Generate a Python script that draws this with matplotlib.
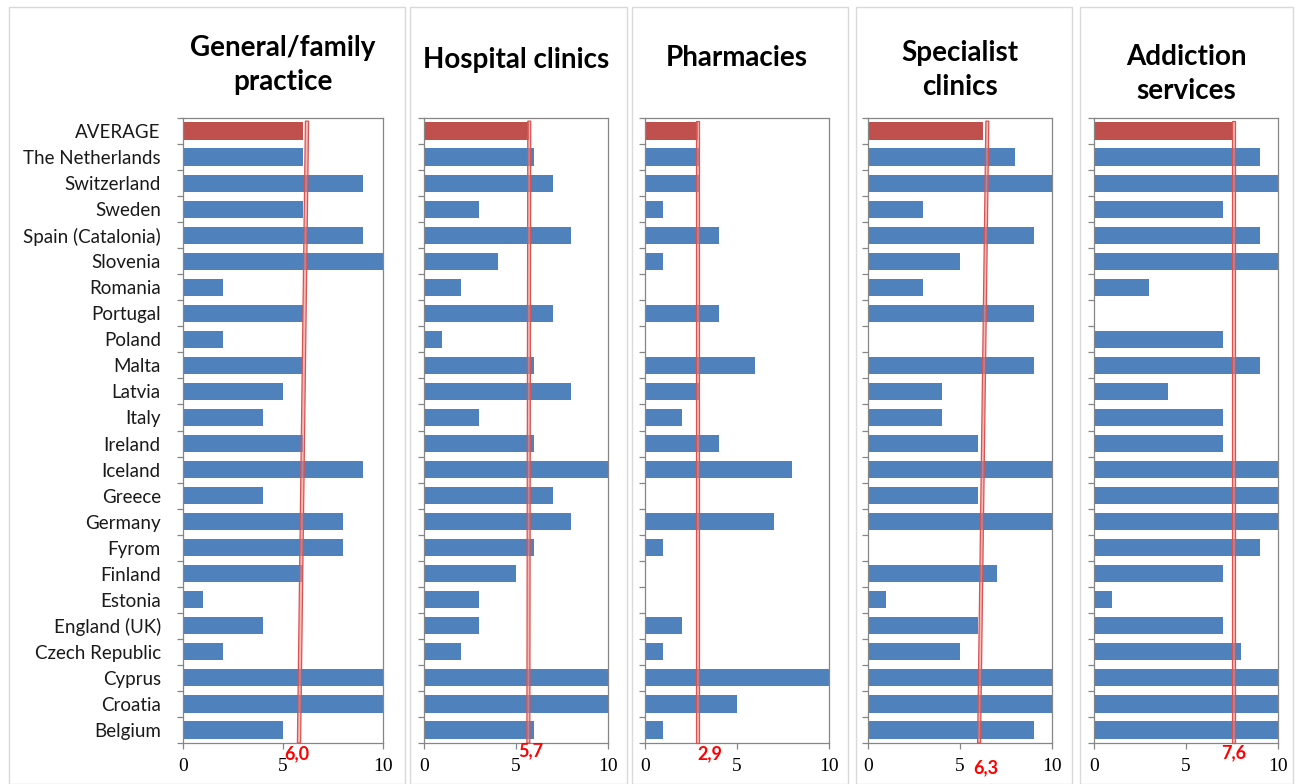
import matplotlib.pyplot as plt
from matplotlib.patches import Polygon, Rectangle

# rows, top to bottom (AVERAGE is filled in from the country scores)
countries = ["The Netherlands", "Switzerland", "Sweden", "Spain (Catalonia)", "Slovenia",
             "Romania", "Portugal", "Poland", "Malta", "Latvia", "Italy", "Ireland",
             "Iceland", "Greece", "Germany", "Fyrom", "Finland", "Estonia", "England (UK)",
             "Czech Republic", "Cyprus", "Croatia", "Belgium"]

titles = ["General/family\npractice", "Hospital clinics", "Pharmacies",
          "Specialist\nclinics", "Addiction\nservices"]

general_practice = [6, 9, 6, 9, 10, 2, 6, 2, 6, 5, 4, 6, 9, 4, 8, 8, 6, 1, 4, 2, 10, 10, 5]
hospital_clinics = [6, 7, 3, 8, 4, 2, 7, 1, 6, 8, 3, 6, 10, 7, 8, 6, 5, 3, 3, 2, 10, 10, 6]
pharmacies = [3, 3, 1, 4, 1, 0, 4, 0, 6, 3, 2, 4, 8, 0, 7, 1, 0, 0, 2, 1, 10, 5, 1]
specialist_clinics = [8, 10, 3, 9, 5, 3, 9, 0, 9, 4, 4, 6, 10, 6, 10, 0, 7, 1, 6, 5, 10, 10, 9]
addiction_services = [9, 10, 7, 9, 10, 3, 0, 7, 9, 4, 7, 7, 10, 10, 10, 9, 7, 1, 7, 8, 10, 10, 10]

series = [general_practice, hospital_clinics, pharmacies, specialist_clinics, addiction_services]

BLUE = "#4F81BD"
RED = "#C0504D"
W, H = 1295, 784

# pixel layout of each small chart: plot area x-range, outer frame x-range, title centre y
plot_x = [(183, 383), (424, 608), (645, 829), (868, 1052), (1094, 1278)]
frame_x = [(9, 405), (410, 627), (632, 848), (856, 1072), (1080, 1293)]
title_y = [65, 60, 58, 70, 74]
# lean of the hand-drawn average marker (top minus bottom, in score units)
lean = [0.4, 0.05, 0.0, 0.45, 0.0]
# where the average value label sits: x shift in score units, y in axes fraction
lab_dx = [-0.3, 0.1, 0.63, 0.14, 0.0]
lab_y = [-0.017, -0.013, -0.017, -0.039, -0.016]
plot_top, plot_bot = 118, 743

fig = plt.figure(figsize=(W / 100, H / 100), dpi=100)
fig.patch.set_facecolor("white")

for i in range(5):
    fx0, fx1 = frame_x[i]
    fig.patches.append(Rectangle((fx0 / W, 0), (fx1 - fx0) / W, 1 - 7 / H,
                                 transform=fig.transFigure, fill=False,
                                 edgecolor="#d9d9d9", linewidth=1.0))

for i, vals in enumerate(series):
    avg = sum(vals) / len(vals)
    labels = ["AVERAGE"] + countries
    values = [avg] + vals
    colors = [RED] + [BLUE] * len(vals)
    heights = [0.72] + [0.66] * len(vals)
    n = len(values)

    x0, x1 = plot_x[i]
    ax = fig.add_axes([x0 / W, 1 - plot_bot / H, (x1 - x0) / W, (plot_bot - plot_top) / H])
    ax.barh(range(n), values, height=heights, color=colors, zorder=2)
    ax.set_xlim(0, 10)
    ax.set_ylim(n - 0.5, -0.5)

    # average marker: a thin red double line running down the chart
    half_w = 0.08
    top_c = avg + lean[i] / 2
    bot_c = avg - lean[i] / 2
    ytop, ybot = -0.38, n - 0.5
    ax.add_patch(Polygon([(top_c - half_w, ytop), (top_c + half_w, ytop),
                          (bot_c + half_w, ybot), (bot_c - half_w, ybot)],
                         closed=True, facecolor=(0.92, 0.55, 0.55, 0.6),
                         edgecolor="#D9534F", linewidth=0.9, zorder=3,
                         clip_on=False))
    ax.text(avg + lab_dx[i], lab_y[i], f"{avg:.1f}".replace(".", ","),
            transform=ax.get_xaxis_transform(), ha="center", va="center",
            color="#FF0000", fontsize=13, fontweight="bold", family="Lato")

    for s in ax.spines.values():
        s.set_color("#868686")
        s.set_linewidth(0.9)

    ax.set_xticks([0, 5, 10])
    ax.set_xticklabels(["0", "5", "10"], family="Liberation Serif", fontsize=14)
    ax.tick_params(axis="x", length=4, width=0.9, color="#868686", pad=7)

    ax.set_yticks(range(n))
    ax.set_yticks([k - 0.5 for k in range(n + 1)], minor=True)
    ax.tick_params(axis="y", which="major", length=0, pad=16)
    ax.tick_params(axis="y", which="minor", length=4, width=0.9, color="#868686")
    if i == 0:
        ax.set_yticklabels(labels, family="Lato", fontsize=13.5, color="#1a1a1a")
    else:
        ax.set_yticklabels([])

    fig.text((x0 + x1) / 2 / W, 1 - title_y[i] / H, titles[i], ha="center", va="center",
             family="Lato", fontweight="bold", fontsize=20, linespacing=1.4)

fig.savefig("out.png", dpi=100, facecolor="white")
